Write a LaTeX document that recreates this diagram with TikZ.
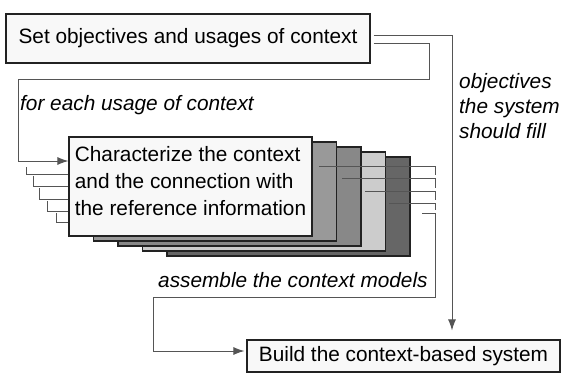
\documentclass[tikz,border=0pt]{standalone}
\usepackage{fontspec}
\setmainfont{Liberation Sans}
\usetikzlibrary{arrows.meta}

\definecolor{boxline}{HTML}{222222}
\definecolor{wireline}{HTML}{555555}
\definecolor{boxfill}{HTML}{F8F8F8}
\definecolor{stackA}{HTML}{999999}
\definecolor{stackB}{HTML}{888888}
\definecolor{stackC}{HTML}{CCCCCC}
\definecolor{stackD}{HTML}{666666}

\begin{document}
\begin{tikzpicture}[x=1pt,y=-1pt,
  stepbox/.style={draw=boxline,line width=1.1pt,inner sep=0pt},
  layer/.style={stepbox,minimum width=243pt,minimum height=99pt},
  wire/.style={draw=wireline,line width=1pt},
  arr/.style={-{Latex[length=11pt,width=8pt]}},
  txt/.style={font=\fontsize{20.8}{27}\selectfont},
  lbl/.style={font=\fontsize{20.8}{27}\selectfont\itshape,anchor=base west,inner sep=0pt}]

\useasboundingbox (0,0) rectangle (563,376);

\node[stepbox,fill=boxfill,minimum width=364pt,minimum height=49pt,txt] (setobj) at (188,38.5) {Set objectives and usages of context};

\node[layer,fill=stackD] (stack4) at (288.5,206.5) {};
\node[layer,fill=stackC] (stack3) at (264,201.5) {};
\node[layer,fill=stackB] (stack2) at (239.5,196.5) {};
\node[layer,fill=stackA] (stack1) at (215,191.5) {};
\node[layer,fill=boxfill,txt,align=left,text depth=12pt] (charac) at (190.5,186.5) {Characterize the context\\and the connection with\\the reference information};

\node[stepbox,fill=boxfill,minimum width=313pt,minimum height=32pt,txt] (build) at (403.5,356) {Build the context-based system};

\node[lbl] (usagelbl) at (20,110) {for each usage of context};
\node[lbl] (assemblelbl) at (158,287) {assemble the context models};
\node[lbl] (fill1) at (459,88) {objectives};
\node[lbl] (fill2) at (459,113) {the system};
\node[lbl] (fill3) at (459,138) {should fill};

\coordinate (objturn) at (452,35);
\draw[wire,arr,shorten >=9pt] ([xshift=3pt,yshift=3.5pt]setobj.east) -- (objturn) -- (objturn |- build.north);

\draw[wire,arr] ([xshift=3pt,yshift=-4.5pt]setobj.east) -| (429,79) -| (18,161) -- (18,161 -| charac.west);

\draw[wire] (26,167) |- (26,174 -| charac.west);
\draw[wire] (33,176) |- (33,186 -| charac.west);
\draw[wire] (39,188) |- (39,199 -| charac.west);
\draw[wire] (47,201) |- (47,211 -| charac.west);
\draw[wire] (56,213) |- (56,222 -| charac.west);

\draw[wire] (319,166) -| (435,175);
\draw[wire] (342,178) -| (435,188);
\draw[wire] (365,191) -| (435,200);
\draw[wire] (389,203) -| (435,210);

\draw[wire,arr,shorten >=2pt] (422,213) -| (435,297) -| (153,351) -- (153,351 -| build.west);

\end{tikzpicture}
\end{document}
